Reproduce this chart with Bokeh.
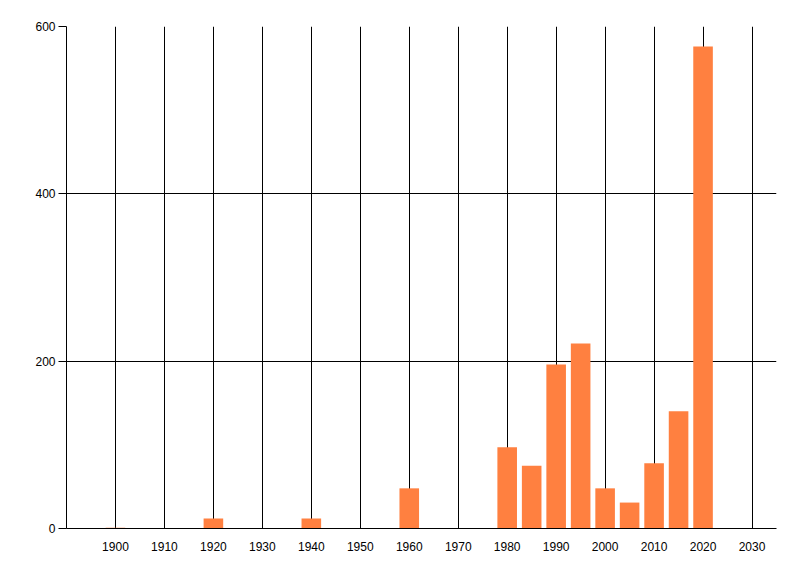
from bokeh.plotting import figure
from bokeh.models import Range1d, FixedTicker
from bokeh.embed import file_html
from bokeh.resources import INLINE

# data
years = [1900, 1920, 1940, 1960, 1980, 1985, 1990, 1995, 2000, 2005, 2010, 2015, 2020]
counts = [1, 12, 12, 48, 97, 75, 196, 221, 48, 31, 78, 140, 576]
x_ticks = [1900, 1910, 1920, 1930, 1940, 1950, 1960, 1970, 1980, 1990, 2000, 2010, 2020, 2030]
y_ticks = [0, 200, 400, 600]

FONT = "Liberation Sans"

p = figure(width=800, height=576, output_backend="svg", toolbar_location=None,
           x_range=Range1d(1890, 2035), y_range=Range1d(0, 600),
           min_border_left=66, min_border_right=24, min_border_top=26, min_border_bottom=48)
p.outline_line_color = None
p.background_fill_color = "white"
p.border_fill_color = "white"

p.vbar(x=years, top=counts, bottom=0, width=4, fill_color="#FF8040", line_color=None)

p.xaxis.ticker = FixedTicker(ticks=x_ticks)
p.yaxis.ticker = FixedTicker(ticks=y_ticks)
p.xaxis.major_tick_line_color = None
p.xaxis.minor_tick_line_color = None
p.yaxis.minor_tick_line_color = None
p.yaxis.major_tick_out = 8
p.yaxis.major_tick_in = 0
p.xaxis.major_label_standoff = 7
p.yaxis.major_label_standoff = 3

for ax in (p.xaxis, p.yaxis):
    ax.axis_line_color = "black"
    ax.major_label_text_font = FONT
    ax.major_label_text_font_size = "12px"
    ax.major_label_text_color = "black"
p.yaxis.major_tick_line_color = "black"

p.xgrid.grid_line_color = "black"
p.ygrid.grid_line_color = "black"
p.xgrid.grid_line_width = 1
p.ygrid.grid_line_width = 1

open("out.html", "w").write(file_html(p, INLINE))
